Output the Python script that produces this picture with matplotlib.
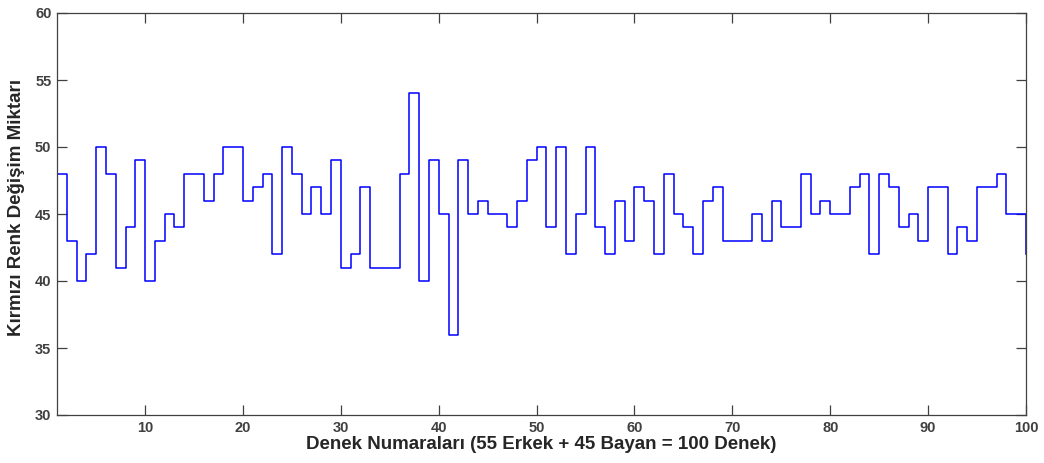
import numpy as np
import matplotlib
matplotlib.use("Agg")
import matplotlib.pyplot as plt

plt.rcParams['font.family'] = ['Liberation Sans', 'DejaVu Sans']

denek = np.arange(1, 101)
kirmizi = [48, 43, 40, 42, 50, 48, 41, 44, 49, 40,
           43, 45, 44, 48, 48, 46, 48, 50, 50, 46,
           47, 48, 42, 50, 48, 45, 47, 45, 49, 41,
           42, 47, 41, 41, 41, 48, 54, 40, 49, 45,
           36, 49, 45, 46, 45, 45, 44, 46, 49, 50,
           44, 50, 42, 45, 50, 44, 42, 46, 43, 47,
           46, 42, 48, 45, 44, 42, 46, 47, 43, 43,
           43, 45, 43, 46, 44, 44, 48, 45, 46, 45,
           45, 47, 48, 42, 48, 47, 44, 45, 43, 47,
           47, 42, 44, 43, 47, 47, 48, 45, 45, 42]
x_ticks = [10, 20, 30, 40, 50, 60, 70, 80, 90, 100]
y_ticks = [30, 35, 40, 45, 50, 55, 60]

fig = plt.figure(figsize=(10.44, 4.63), dpi=100)
ax = fig.add_axes([57 / 1044, 48 / 463, 969 / 1044, 402 / 463])

ax.step(denek, kirmizi, where='post', color='#0000ff', linewidth=1.1)

ax.set_xlim(1, 100)
ax.set_ylim(30, 60)
ax.set_xticks(x_ticks)
ax.set_yticks(y_ticks)
ax.tick_params(direction='in', top=True, right=True, length=7.5, width=0.9,
               labelsize=10.5, color='#404040', pad=4)
for lbl in ax.get_xticklabels() + ax.get_yticklabels():
    lbl.set_fontweight('bold')
    lbl.set_color('#404040')
for sp in ax.spines.values():
    sp.set_color('#404040')
    sp.set_linewidth(0.9)

ax.set_xlabel("Denek Numaraları (55 Erkek + 45 Bayan = 100 Denek)",
              fontsize=13.5, fontweight='bold', color='#262626', labelpad=1)
ax.set_ylabel("Kırmızı Renk Değişim Miktarı",
              fontsize=13.5, fontweight='bold', color='#262626')
ax.yaxis.set_label_coords(-0.033, 0.515)

fig.savefig('out.png', dpi=100)
